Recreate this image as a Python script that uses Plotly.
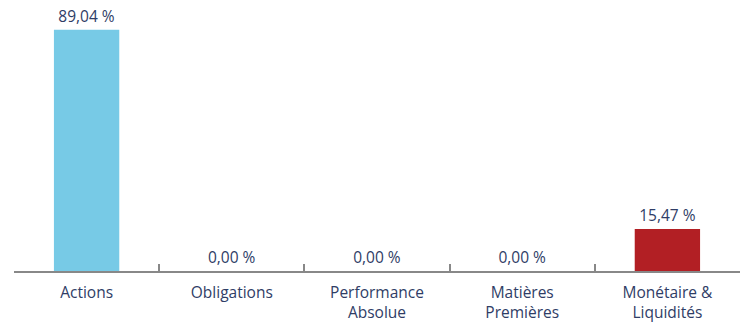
import plotly.graph_objects as go

categories = ["Actions", "Obligations", "Performance<br>Absolue", "Matières<br>Premières", "Monétaire &<br>Liquidités"]
values = [89.04, 0.00, 0.00, 0.00, 15.47]
colors = ["#77cae6", "#77cae6", "#77cae6", "#77cae6", "#b21f24"]
labels = [f"{v:.2f} %".replace(".", ",") for v in values]

text_color = "#2f3d66"

fig = go.Figure(go.Bar(
    x=categories, y=values,
    marker=dict(color=colors, line=dict(width=0)),
    text=labels, textposition="outside", cliponaxis=False,
    textfont=dict(family="Open Sans", size=15.5, color=text_color),
    width=0.45,
))

fig.update_layout(
    width=748, height=322,
    margin=dict(l=14, r=8, t=0, b=51),
    paper_bgcolor="white", plot_bgcolor="white",
    showlegend=False,
    font=dict(family="Open Sans", size=15.5, color=text_color),
)
fig.update_xaxes(
    showline=True, linecolor="#888888", linewidth=2,
    ticks="inside", tickson="boundaries", ticklen=7, tickcolor="#888888", tickwidth=2,
    tickfont=dict(family="Open Sans", size=15.5, color=text_color),
    ticklabelstandoff=6,
    showgrid=False,
)
fig.update_yaxes(range=[0, 100], visible=False, showgrid=False)

fig.write_html("out.html")
